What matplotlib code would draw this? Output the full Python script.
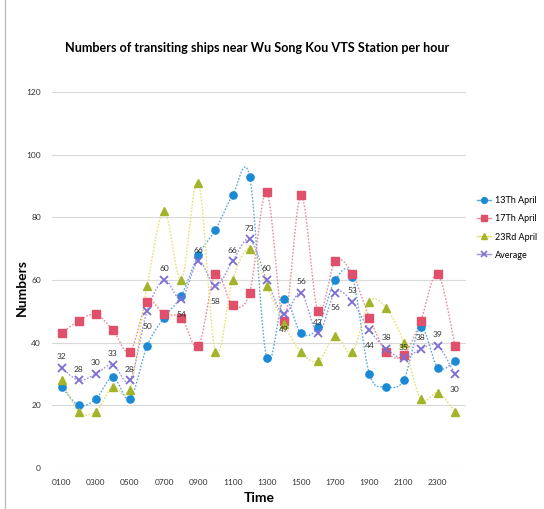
import numpy as np
import matplotlib
matplotlib.use('Agg')
import matplotlib.pyplot as plt
from matplotlib.lines import Line2D

plt.rcParams['font.family'] = ['Lato', 'DejaVu Sans']

hours = ['0100', '0200', '0300', '0400', '0500', '0600', '0700', '0800',
         '0900', '1000', '1100', '1200', '1300', '1400', '1500', '1600',
         '1700', '1800', '1900', '2000', '2100', '2200', '2300', '2400']
april13 = [26, 20, 22, 29, 22, 39, 48, 55, 68, 76, 87, 93,
           35, 54, 43, 45, 60, 61, 30, 26, 28, 45, 32, 34]
april17 = [43, 47, 49, 44, 37, 53, 49, 48, 39, 62, 52, 56,
           88, 47, 87, 50, 66, 62, 48, 37, 36, 47, 62, 39]
april23 = [28, 18, 18, 26, 25, 58, 82, 60, 91, 37, 60, 70,
           58, 46, 37, 34, 42, 37, 53, 51, 40, 22, 24, 18]
average = [32, 28, 30, 33, 28, 50, 60, 54, 66, 58, 66, 73,
           60, 49, 56, 43, 56, 53, 44, 38, 35, 38, 39, 30]
# which average labels sit below their marker
label_below = {'0600', '0800', '1000', '1400', '1700', '1900', '2400'}


def smooth(xs, ys, n=16):
    # Catmull-Rom curve through the points, like Excel's smoothed line
    p = np.column_stack([xs, ys]).astype(float)
    p = np.vstack([p[0], p, p[-1]])
    t = np.linspace(0, 1, n, endpoint=False)[:, None]
    out = []
    for i in range(1, len(p) - 2):
        p0, p1, p2, p3 = p[i - 1], p[i], p[i + 1], p[i + 2]
        seg = 0.5 * ((2 * p1) + (-p0 + p2) * t +
                     (2 * p0 - 5 * p1 + 4 * p2 - p3) * t ** 2 +
                     (-p0 + 3 * p1 - 3 * p2 + p3) * t ** 3)
        out.append(seg)
    out.append(p[-2][None, :])
    out = np.vstack(out)
    return out[:, 0], out[:, 1]


fig = plt.figure(figsize=(5.44, 5.09), dpi=100)
ax = fig.add_axes([0.0956, 0.0806, 0.761, 0.7387])

x = np.arange(len(hours))
series = [
    ('13Th April', april13, '#1a8ad4', '#5aa8e0', 'o', 5.2),
    ('17Th April', april17, '#e0506a', '#eb8c98', 's', 5.2),
    ('23Rd April', april23, '#a3b42a', '#e6e070', '^', 5.4),
    ('Average', average, '#7b6fd2', '#9d94dd', 'x', 6),
]
handles = []
for name, vals, mcol, lcol, mk, ms in series:
    sx, sy = smooth(x, vals)
    ax.plot(sx, sy, color=lcol, lw=1.0, ls=(0, (1.2, 1.2)), zorder=2)
    if mk == 'x':
        ax.plot(x, vals, ls='none', marker=mk, ms=ms, mew=1.3, color=mcol, zorder=4)
    else:
        ax.plot(x, vals, ls='none', marker=mk, ms=ms, mfc=mcol, mec=mcol, zorder=3)
    handles.append(Line2D([], [], color=lcol, lw=1.0, marker=mk, ms=ms - 1,
                          mfc=mcol, mec=mcol, mew=1.2 if mk == 'x' else 1))

for xi, h, v in zip(x, hours, average):
    dy = -11 if h in label_below else 8
    ax.annotate(str(v), (xi, v), xytext=(0, dy), textcoords='offset points',
                ha='center', va='center', fontsize=6, color='#333333', zorder=5)

ax.set_xlim(-0.56, 23.65)
ax.set_ylim(0, 120)
ax.set_yticks(range(0, 121, 20))
ax.set_xticks(x[::2])
ax.set_xticklabels(hours[::2])
ax.tick_params(axis='both', length=0, labelsize=6, colors='#333333')
ax.tick_params(axis='x', pad=8)
ax.tick_params(axis='y', pad=8)
ax.grid(axis='y', color='#d9d9d9', lw=0.8)
ax.set_axisbelow(True)
for s in ax.spines.values():
    s.set_visible(False)

ax.set_xlabel('Time', fontsize=10, fontweight='bold', labelpad=4)
ax.set_ylabel('Numbers', fontsize=10, fontweight='bold')
ax.yaxis.set_label_coords(-0.058, 0.48)
fig.text(0.473, 0.905, 'Numbers of transiting ships near Wu Song Kou VTS Station per hour',
         ha='center', va='center', fontsize=9.1, fontweight='bold')

fig.legend(handles, [s[0] for s in series], loc='upper left',
           bbox_to_anchor=(0.862, 0.63), frameon=False, fontsize=6.5,
           handlelength=1.6, labelspacing=1.0, handletextpad=0.4)

# chart area frame on the left
fig.add_artist(Line2D([0.009, 0.009], [0.0, 1.0], color='#bfbfbf', lw=1))

fig.savefig('out.png', dpi=100)
